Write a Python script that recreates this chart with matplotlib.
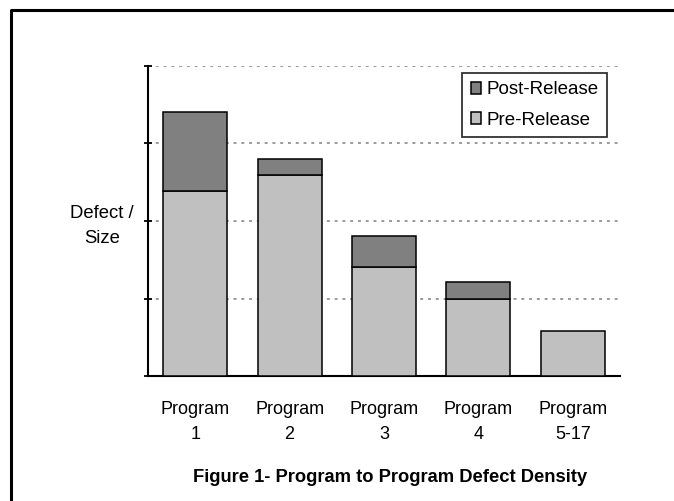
import matplotlib
matplotlib.use("Agg")
import matplotlib.pyplot as plt
from matplotlib.lines import Line2D
from matplotlib.patches import Patch

plt.rcParams['font.family'] = ['Liberation Sans', 'DejaVu Sans']

programs = ["Program\n1", "Program\n2", "Program\n3", "Program\n4", "Program\n5-17"]
pre_release = [2.39, 2.59, 1.41, 1.00, 0.58]
post_release = [1.01, 0.21, 0.39, 0.21, 0.0]

W, H = 674, 501
fig = plt.figure(figsize=(W / 100, H / 100), dpi=100)
ax = fig.add_axes([148 / W, 1 - 376 / H, (620 - 148) / W, (376 - 66) / H])

x = range(len(programs))
ax.bar(x, pre_release, width=0.68, color="#c0c0c0", edgecolor="black", linewidth=1.1, zorder=3)
post_x = [i for i in x if post_release[i] > 0]
ax.bar(post_x, [post_release[i] for i in post_x], bottom=[pre_release[i] for i in post_x],
       width=0.68, color="#808080", edgecolor="black", linewidth=1.1, zorder=3)

ax.set_xlim(-0.5, 4.5)
ax.set_ylim(0, 4)
ax.set_yticks([0, 1, 2, 3, 4])
ax.set_yticklabels([])
for yv in [1, 2, 3, 4]:
    ax.axhline(yv, color="#9a9a9a", linestyle=(0, (1.5, 2.5)), linewidth=1.4, zorder=1)

for s in ["top", "right"]:
    ax.spines[s].set_visible(False)
ax.spines["left"].set_linewidth(1.5)
ax.spines["bottom"].set_linewidth(1.5)
ax.tick_params(axis="y", direction="inout", length=6, width=1.3)
ax.tick_params(axis="x", length=0, pad=18)
ax.set_xticks(list(x))
ax.set_xticklabels(programs, fontsize=13, linespacing=1.6)

fig.text(102 / W, 1 - 226 / H, "Defect /\nSize", ha="center", va="center",
         fontsize=13.3, linespacing=1.6)

handles = [Patch(facecolor="#808080", edgecolor="black", linewidth=1.1, label="Post-Release"),
           Patch(facecolor="#c0c0c0", edgecolor="black", linewidth=1.1, label="Pre-Release")]
leg = ax.legend(handles=handles, loc="upper right", bbox_to_anchor=((607 - 148) / 472, 1 - (73 - 66) / 310),
                fontsize=13.5, frameon=True, fancybox=False, edgecolor="black",
                handlelength=0.55, handleheight=0.65, handletextpad=0.3, borderpad=0.45,
                labelspacing=0.7, borderaxespad=0)
leg.get_frame().set_linewidth(1.3)

fig.text(390 / W, 1 - 477 / H, "Figure 1- Program to Program Defect Density",
         ha="center", va="center", fontsize=13.2, fontweight="bold")

# page frame, right and bottom edges run off the picture
fig.add_artist(Line2D([10.5 / W, 10.5 / W, 1.0], [0.0, 1 - 9.5 / H, 1 - 9.5 / H],
                      transform=fig.transFigure, color="black", linewidth=2.2))

fig.savefig("out.png", dpi=100)
